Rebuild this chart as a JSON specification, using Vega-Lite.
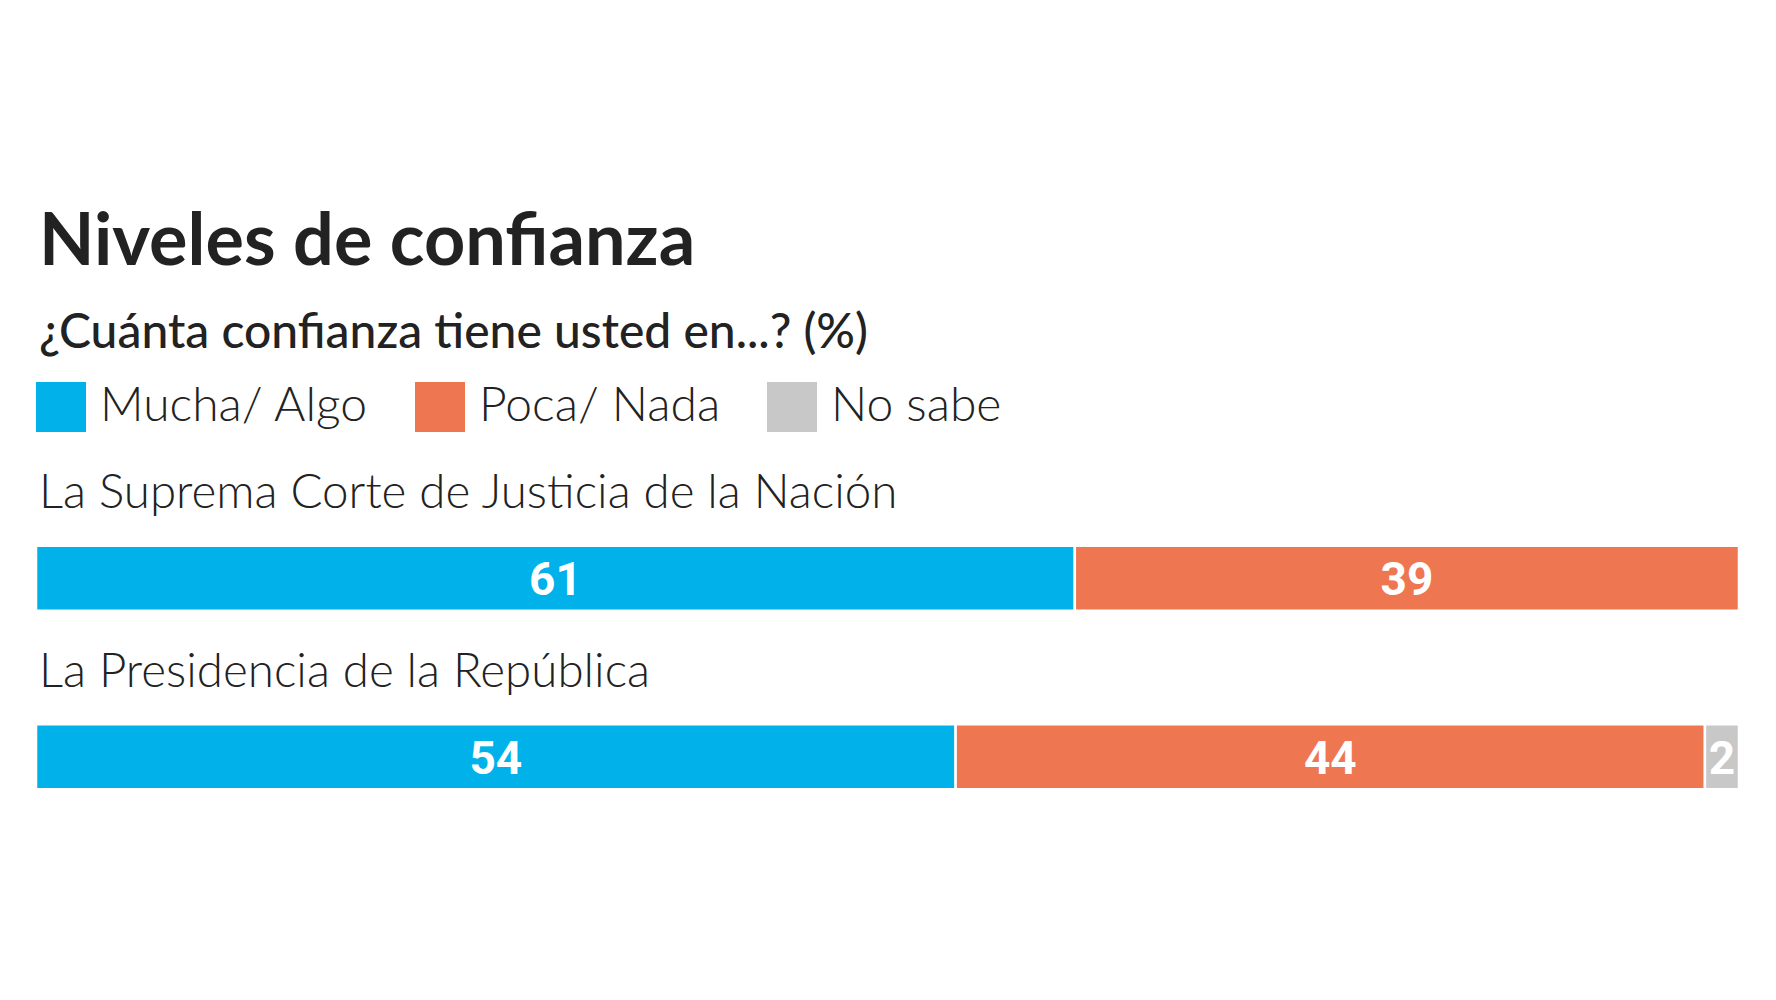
{
  "$schema": "https://vega.github.io/schema/vega-lite/v6.json",
  "autosize": {"type": "none"},
  "width": 1703,
  "height": 357,
  "padding": {"left": 36, "top": 489, "right": 37, "bottom": 154},
  "background": "white",
  "config": {"view": {"stroke": null}},
  "title": {
    "text": "Niveles de confianza",
    "subtitle": "¿Cuánta confianza tiene usted en...? (%)",
    "anchor": "start",
    "frame": "group",
    "font": "Lato",
    "fontWeight": "bold",
    "fontSize": 72,
    "color": "#222222",
    "subtitleFont": "Lato",
    "subtitleFontWeight": 500,
    "subtitleFontSize": 48,
    "subtitleColor": "#222222",
    "subtitlePadding": 30,
    "offset": 23,
    "dx": 3
  },
  "data": {
    "values": [
      {"cat": "La Suprema Corte de Justicia de la Nación", "resp": "Mucha/ Algo", "ord": 1, "value": 61},
      {"cat": "La Suprema Corte de Justicia de la Nación", "resp": "Poca/ Nada", "ord": 2, "value": 39},
      {"cat": "La Presidencia de la República", "resp": "Mucha/ Algo", "ord": 1, "value": 54},
      {"cat": "La Presidencia de la República", "resp": "Poca/ Nada", "ord": 2, "value": 44},
      {"cat": "La Presidencia de la República", "resp": "No sabe", "ord": 3, "value": 2}
    ]
  },
  "encoding": {
    "y": {
      "field": "cat",
      "type": "nominal",
      "sort": null,
      "axis": null,
      "scale": {"paddingInner": 0.636, "paddingOuter": 0.318}
    }
  },
  "layer": [
    {
      "mark": {"type": "bar", "stroke": "white", "strokeWidth": 2.5},
      "encoding": {
        "x": {"field": "value", "type": "quantitative", "stack": "zero", "axis": null, "scale": {"domain": [0, 100], "nice": false}},
        "order": {"field": "ord", "type": "quantitative"},
        "color": {
          "field": "resp",
          "type": "nominal",
          "scale": {"domain": ["Mucha/ Algo", "Poca/ Nada", "No sabe"], "range": ["#00B1EA", "#EE7651", "#C8C8C8"]},
          "legend": {
            "title": null,
            "orient": "none",
            "direction": "horizontal",
            "legendX": 0,
            "legendY": -107,
            "symbolType": "square",
            "symbolSize": 2500,
            "symbolStrokeWidth": 0,
            "symbolOpacity": 1,
            "labelFont": "Lato",
            "labelFontWeight": 300,
            "labelFontSize": 48,
            "labelColor": "#222222",
            "labelOffset": 14,
            "columnPadding": 46,
            "labelLimit": 600
          }
        }
      }
    },
    {
      "mark": {"type": "text", "color": "white", "font": "Roboto", "fontWeight": "bold", "fontSize": 46, "baseline": "alphabetic", "dy": 17},
      "encoding": {
        "x": {"field": "value", "type": "quantitative", "stack": "zero", "bandPosition": 0.5},
        "order": {"field": "ord", "type": "quantitative"},
        "text": {"field": "value", "type": "quantitative"}
      }
    },
    {
      "transform": [{"filter": {"field": "ord", "equal": 1}}],
      "mark": {"type": "text", "align": "left", "baseline": "alphabetic", "dy": -70, "dx": 3, "font": "Lato", "fontWeight": 300, "fontSize": 47.5, "color": "#222222"},
      "encoding": {
        "x": {"datum": 0, "type": "quantitative"},
        "text": {"field": "cat", "type": "nominal"}
      }
    }
  ]
}
